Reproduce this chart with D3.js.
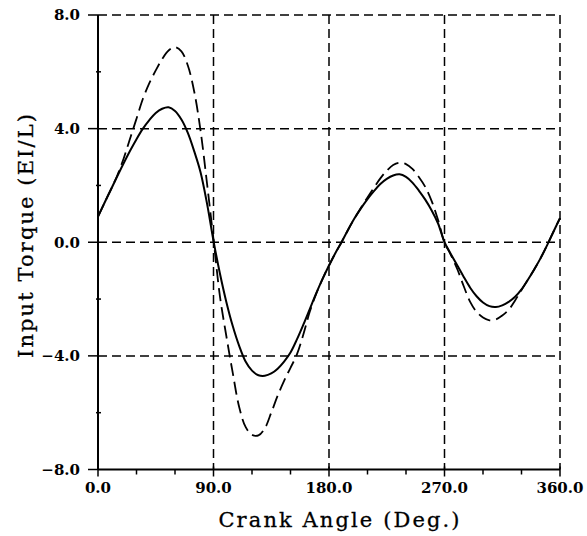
<!DOCTYPE html>
<html>
<head>
<meta charset="utf-8">
<script src="https://cdn.jsdelivr.net/npm/d3@7"></script>
<style>
body { margin: 0; background: #fff; }
svg { display: block; }
.tick-label { font-family: "DejaVu Serif", serif; font-weight: bold; font-size: 15px; }
.axis-title { font-family: "DejaVu Serif", serif; font-size: 21px; letter-spacing: 2.1px; stroke: #000; stroke-width: 0.3px; }
</style>
</head>
<body>
<svg id="chart" width="587" height="536"></svg>
<script>
// crank angle samples (deg)
const angles = [0, 5, 10, 15, 20, 25, 30, 35, 40, 45, 50, 55, 60, 65, 70, 75, 80, 85, 90,
    95, 100, 105, 110, 115, 120, 125, 130, 135, 140, 145, 150, 155, 160, 165, 170, 175, 180,
    185, 190, 195, 200, 205, 210, 215, 220, 225, 230, 235, 240, 245, 250, 255, 260, 265, 270,
    275, 280, 285, 290, 295, 300, 305, 310, 315, 320, 325, 330, 335, 340, 345, 350, 355, 360];

// input torque, solid curve
const torqueSolid = [0.9, 1.38, 1.85, 2.32, 2.78, 3.22, 3.63, 4.0, 4.3, 4.55, 4.7, 4.75, 4.62, 4.32, 3.85, 3.2, 2.45, 1.35, 0.05,
    -1.1, -2.1, -2.95, -3.65, -4.2, -4.52, -4.68, -4.7, -4.62, -4.45, -4.2, -3.88, -3.42, -2.9, -2.35, -1.8, -1.29, -0.82,
    -0.38, 0.02, 0.45, 0.85, 1.2, 1.52, 1.8, 2.05, 2.23, 2.35, 2.39, 2.3, 2.1, 1.82, 1.5, 1.12, 0.66, 0.0,
    -0.42, -0.82, -1.22, -1.6, -1.9, -2.12, -2.25, -2.28, -2.22, -2.1, -1.92, -1.66, -1.32, -0.95, -0.55, -0.1, 0.38, 0.85];

// input torque, dashed curve
const torqueDashed = [0.9, 1.38, 1.85, 2.35, 2.95, 3.65, 4.35, 5.05, 5.6, 6.05, 6.45, 6.75, 6.87, 6.72, 6.22, 5.3, 3.9, 2.05, 0.1,
    -1.9, -3.3, -4.6, -5.8, -6.5, -6.78, -6.8, -6.55, -6.0, -5.4, -4.88, -4.42, -3.95, -3.25, -2.45, -1.82, -1.29, -0.82,
    -0.38, 0.02, 0.45, 0.85, 1.22, 1.58, 1.92, 2.25, 2.52, 2.72, 2.8, 2.75, 2.58, 2.3, 1.95, 1.45, 0.78, 0.0,
    -0.45, -0.95, -1.55, -2.1, -2.45, -2.65, -2.75, -2.72, -2.58, -2.38, -2.05, -1.68, -1.32, -0.95, -0.55, -0.1, 0.38, 0.85];

const xTicks = [0, 90, 180, 270, 360];
const xMinor = [30, 60, 120, 150, 210, 240, 300, 330];
const yTicks = [-8, -4, 0, 4, 8];
const yMinor = [-6, -2, 2, 6];
const xTickLabels = ["0.0", "90.0", "180.0", "270.0", "360.0"];
const yTickLabels = ["\u22128.0", "\u22124.0", "0.0", "4.0", "8.0"];

const svg = d3.select("#chart");

let x = d3.scaleLinear().domain([0, 360]).range([98, 560]);
let y = d3.scaleLinear().domain([-8, 8]).range([469.5, 15]);

// dashed grid (incl. top and right border)
let grid = svg.append("g")
    .attr("stroke", "#000")
    .attr("stroke-width", 1.5)
    .attr("stroke-dasharray", "9,5");

grid.selectAll(".gx")
    .data(xTicks.slice(1))
    .enter().append("line")
    .attr("x1", d => x(d)).attr("x2", d => x(d))
    .attr("y1", y(8)).attr("y2", y(-8));

grid.selectAll(".gy")
    .data(yTicks.slice(1))
    .enter().append("line")
    .attr("x1", x(0)).attr("x2", x(360))
    .attr("y1", d => y(d)).attr("y2", d => y(d));

// solid axes
let axes = svg.append("g").attr("stroke", "#000").attr("stroke-width", 2);
axes.append("line")
    .attr("x1", x(0)).attr("x2", x(0))
    .attr("y1", y(8)).attr("y2", y(-8));
axes.append("line")
    .attr("x1", x(0)).attr("x2", x(360))
    .attr("y1", y(-8)).attr("y2", y(-8));

// y ticks: major point out to the left, minor are short
axes.selectAll(".ty")
    .data(yTicks)
    .enter().append("line")
    .attr("x1", x(0) - 10).attr("x2", x(0))
    .attr("y1", d => y(d)).attr("y2", d => y(d))
    .attr("stroke-width", 1.5);
axes.selectAll(".tym")
    .data(yMinor)
    .enter().append("line")
    .attr("x1", x(0) - 2).attr("x2", x(0) + 3)
    .attr("y1", d => y(d)).attr("y2", d => y(d))
    .attr("stroke-width", 1.5);

// x ticks point down
axes.selectAll(".tx")
    .data(xTicks)
    .enter().append("line")
    .attr("x1", d => x(d)).attr("x2", d => x(d))
    .attr("y1", y(-8) - 3).attr("y2", y(-8) + 7)
    .attr("stroke-width", 1.5);
axes.selectAll(".txm")
    .data(xMinor)
    .enter().append("line")
    .attr("x1", d => x(d)).attr("x2", d => x(d))
    .attr("y1", y(-8)).attr("y2", y(-8) + 5)
    .attr("stroke-width", 1.5);

// tick labels
svg.selectAll(".ylab")
    .data(yTicks)
    .enter().append("text")
    .attr("class", "tick-label")
    .attr("x", 80)
    .attr("y", d => y(d))
    .attr("dy", "0.36em")
    .attr("text-anchor", "end")
    .text((d, i) => yTickLabels[i]);

svg.selectAll(".xlab")
    .data(xTicks)
    .enter().append("text")
    .attr("class", "tick-label")
    .attr("x", d => x(d))
    .attr("y", 493)
    .attr("text-anchor", "middle")
    .text((d, i) => xTickLabels[i]);

// axis titles
svg.append("text")
    .attr("class", "axis-title")
    .attr("x", 340)
    .attr("y", 527)
    .attr("text-anchor", "middle")
    .text("Crank Angle (Deg.)");

svg.append("text")
    .attr("class", "axis-title")
    .attr("transform", "translate(33,235) rotate(-90)")
    .attr("text-anchor", "middle")
    .text("Input Torque (EI/L)");

// curves
let pts = (vals) => angles.map((a, i) => [a, vals[i]]);
let line = d3.line()
    .x(d => x(d[0]))
    .y(d => y(d[1]))
    .curve(d3.curveCatmullRom.alpha(0.5));

svg.append("path")
    .datum(pts(torqueDashed))
    .attr("fill", "none")
    .attr("stroke", "#000")
    .attr("stroke-width", 1.8)
    .attr("stroke-dasharray", "13,6")
    .attr("d", line);

svg.append("path")
    .datum(pts(torqueSolid))
    .attr("fill", "none")
    .attr("stroke", "#000")
    .attr("stroke-width", 2)
    .attr("d", line);
</script>
</body>
</html>
